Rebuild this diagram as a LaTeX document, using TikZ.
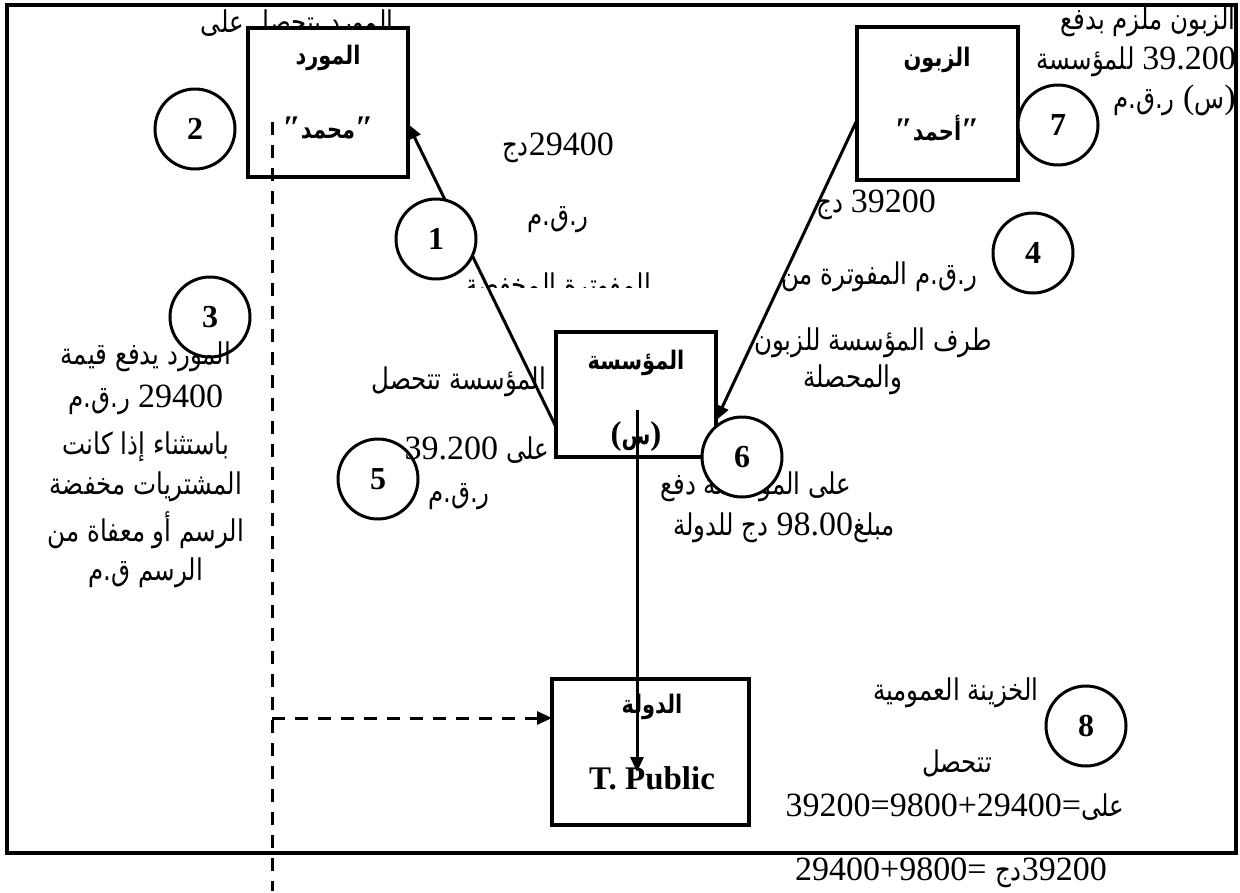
\documentclass[tikz,border=0pt]{standalone}
\usepackage{fontspec}
\setmainfont{Liberation Serif}
\newfontfamily\arabicfont[Script=Arabic,Scale=0.88,FakeStretch=0.82]{DejaVu Sans}
\TeXXeTstate=1
\usetikzlibrary{arrows.meta,calc}
\newcommand{\N}[1]{\beginL{\rmfamily #1}\endL}
\newcommand{\AR}[1]{{\arabicfont\beginR #1\endR}}
\newcommand{\ARb}[1]{{\fontsize{29}{34}\selectfont\arabicfont\bfseries\beginR #1\endR}}
\newcommand{\Q}{{\rmfamily\bfseries ″}}
\begin{document}
\begin{tikzpicture}[x=1pt,y=-1pt,
  txt/.style={font=\fontsize{34}{38}\selectfont, inner sep=0pt, anchor=center},
  rtxt/.style={txt, anchor=east},
  lbl/.style={font=\fontsize{33}{36}\selectfont\bfseries, inner sep=0pt, anchor=center},
  box/.style={draw, line width=3.5pt, fill=white, outer sep=0pt, inner sep=0pt},
  circ/.style={circle, draw, line width=3pt, minimum size=80pt, inner sep=0pt, outer sep=0pt, font=\fontsize{32}{32}\selectfont\bfseries},
  tip/.style={-{Triangle[length=15pt,width=13pt]}},
  arr/.style={line width=3pt, tip},
  dashline/.style={line width=3pt, dash pattern=on 13pt off 10pt}
]
\useasboundingbox (0,0) rectangle (1240,892);
% frame
\draw[line width=4.5pt] (7,5) rectangle (1236,853);

% circles behind text
\node[circ] (c3) at (210,317) {3};
\node[circ] (c5) at (378,479) {5};

% free texts
\node[txt] (t1) at (297,25) {\AR{المورد يتحصل على}};
\node[txt] (t2) at (558,148) {\AR{\N{29400}دج}};
\node[txt] (t3) at (558,220) {\AR{ر.ق.م}};
\begin{scope}
\clip (440,240) rectangle (700,287);
\node[txt, anchor=base] (t4) at (558,295) {\AR{المفوترة المخفضة}};
\end{scope}
\node[txt] (t5) at (876,205) {\AR{\N{39200} دج}};
\node[txt] (t6) at (879,277) {\AR{ر.ق.م المفوترة من}};
\node[txt] (t7) at (873,343) {\AR{طرف المؤسسة للزبون}};
\node[txt] (t8) at (853,380) {\AR{والمحصلة}};
\node[rtxt] (t9) at (1236,22) {\AR{الزبون ملزم بدفع}};
\node[rtxt] (t10) at (1236,62) {\AR{\N{39.200} للمؤسسة}};
\node[rtxt] (t11) at (1236,100) {\AR{ر.ق.م} (\AR{س})};
\node[txt] (l1) at (146,357) {\AR{المورد يدفع قيمة}};
\node[txt] (l2) at (146,400) {\AR{\N{29400} ر.ق.م}};
\node[txt] (l3) at (146,447) {\AR{باستثناء إذا كانت}};
\node[txt] (l4) at (146,487) {\AR{المشتريات مخفضة}};
\node[txt] (l5) at (146,530) {\AR{الرسم أو معفاة من}};
\node[txt] (l6) at (146,573) {\AR{الرسم ق.م}};
\node[txt] (t12) at (459,382) {\AR{المؤسسة تتحصل}};
\node[txt] (t13) at (477,450) {\AR{على \N{39.200}}};
\node[txt] (t14) at (459,497) {\AR{ر.ق.م}};
\node[txt] (t15) at (756,487) {\AR{على المؤسسة دفع}};
\node[txt] (t16) at (784,528) {\AR{مبلغ\N{98.00} دج للدولة}};
\node[txt] (t17) at (956,693) {\AR{الخزينة العمومية}};
\node[txt] (t18) at (957,763) {\AR{تتحصل}};
\node[txt] (t19) at (955,807) {39200=9800+29400=\AR{على}};
\node[txt] (t20) at (951,873) {29400+9800= \AR{دج}39200};

% boxes
\node[box, minimum width=160pt, minimum height=149pt] (sup) at (328,102.5) {};
\node[box, minimum width=161pt, minimum height=153pt] (cust) at (937.5,103.5) {};
\node[box, minimum width=160pt, minimum height=125pt] (ent) at (636,394.5) {};
\node[box, minimum width=197pt, minimum height=146pt] (st) at (650.5,752) {};

% box labels
\node[lbl] (sup1) at (328,58) {\ARb{المورد}};
\node[lbl] (sup2) at (328,128) {\Q\ARb{محمد}\Q};
\node[lbl] (cust1) at (937,60) {\ARb{الزبون}};
\node[lbl] (cust2) at (937,128) {\Q\ARb{أحمد}\Q};
\node[lbl] (ent1) at (636,363) {\ARb{المؤسسة}};
\node[lbl] (ent2) at (636,437) {(\ARb{س})};
\node[lbl] (st1) at (652,707) {\ARb{الدولة}};
\node[lbl] (st2) at (652,778) {T. Public};

% connectors
\draw[arr] ([yshift=-32.5pt]ent.west) -- ([yshift=-21.5pt]sup.east);
\draw[arr] ([yshift=-16.5pt]cust.west) -- ([yshift=-26pt]ent.east);
\draw[arr] ([xshift=1pt,yshift=-15.5pt]ent.center) -- ([xshift=-13.5pt,yshift=-20pt]st.center);

\coordinate (dtop) at (272,122);
\coordinate (dbot) at (272,891);
\coordinate (djoin) at (272,718);
\draw[dashline] (dtop) -- (dbot);
\draw[dashline, tip] (djoin) -- (djoin -| st.west);

% circles on top
\node[circ, fill=white] (c1) at (436,239) {1};
\node[circ, fill=white] (c2) at (195,129) {2};
\node[circ, fill=white] (c4) at (1033,253) {4};
\node[circ, fill=white] (c6) at (742,457) {6};
\node[circ, fill=white] (c7) at (1058,125) {7};
\node[circ, fill=white] (c8) at (1086,726) {8};
\end{tikzpicture}
\end{document}
